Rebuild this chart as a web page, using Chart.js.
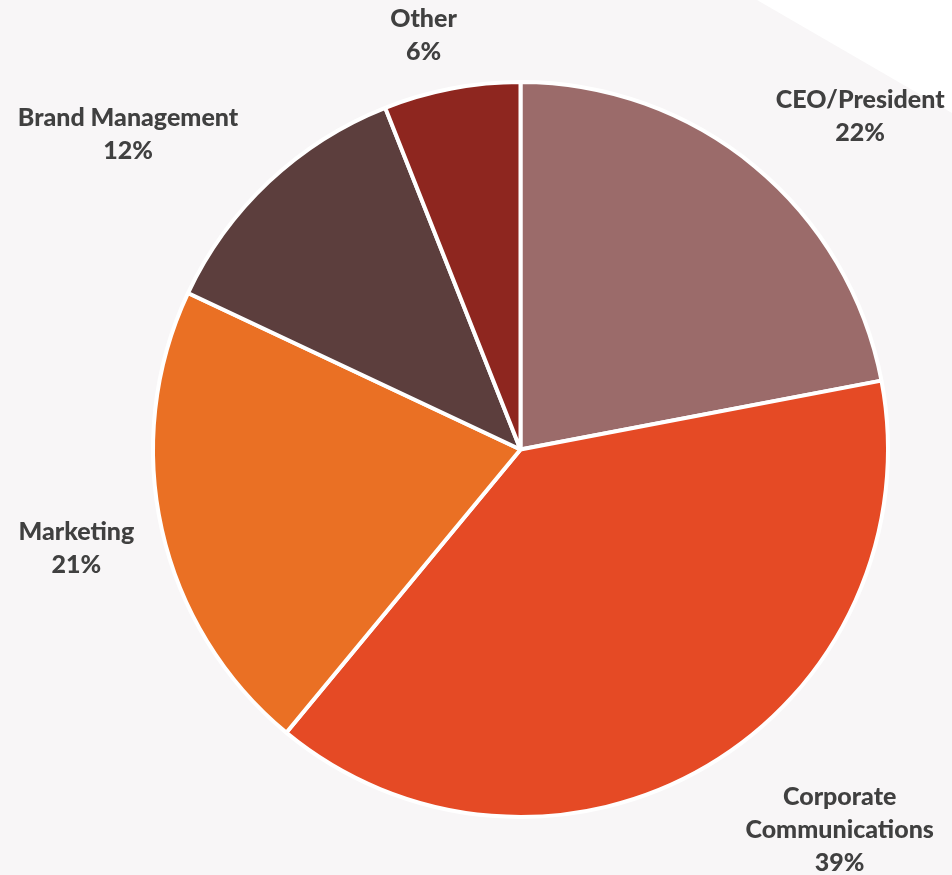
<!DOCTYPE html>
<html>
<head>
<meta charset="utf-8">
<script src="https://cdn.jsdelivr.net/npm/chart.js@4.4.0/dist/chart.umd.min.js"></script>
<style>
  html, body { margin: 0; padding: 0; background: #f8f6f7; }
  #wrap { width: 952px; height: 875px; position: relative; }
</style>
</head>
<body>
<div id="wrap"><canvas id="chart" width="952" height="875"></canvas></div>
<script>
const categories = ["CEO/President", "Corporate Communications", "Marketing", "Brand Management", "Other"];
const shares = [22, 39, 21, 12, 6];
const sliceColors = ["#9b6b6a", "#e54a25", "#ea7024", "#5c3e3d", "#8e261f"];

// label text broken into lines the way the reference shows them
const labelLines = [["CEO/President"], ["Corporate", "Communications"], ["Marketing"], ["Brand Management"], ["Other"]];

const pageBg = {
  id: "pageBg",
  beforeDraw(chart) {
    const ctx = chart.ctx;
    ctx.save();
    ctx.fillStyle = "#f8f6f7";
    ctx.fillRect(0, 0, chart.width, chart.height);
    // white corner cut top-right
    ctx.fillStyle = "#ffffff";
    ctx.beginPath();
    ctx.moveTo(chart.width - 195, 0);
    ctx.lineTo(chart.width, 0);
    ctx.lineTo(chart.width, 113);
    ctx.closePath();
    ctx.fill();
    ctx.restore();
  }
};

const clamp = v => Math.max(-1, Math.min(1, v));

const outsideLabels = {
  id: "outsideLabels",
  afterDatasetsDraw(chart, args, opts) {
    const ctx = chart.ctx;
    const meta = chart.getDatasetMeta(0);
    ctx.save();
    ctx.font = "900 25px Lato";
    ctx.fillStyle = "#404040";
    ctx.textAlign = "center";
    ctx.textBaseline = "middle";
    const lh = 33;
    meta.data.forEach((arc, i) => {
      const mid = (arc.startAngle + arc.endAngle) / 2;
      const lines = labelLines[i].concat([shares[i] + "%"]);
      const w = Math.max(...lines.map(l => ctx.measureText(l).width));
      const h = lines.length * lh;
      const r = arc.outerRadius + 20;
      const cos = Math.cos(mid), sin = Math.sin(mid);
      const nudge = opts.nudge[i] || [0, 0];
      const cx = arc.x + r * cos + clamp(cos * 1.5) * w / 2 + nudge[0];
      const cy = arc.y + r * sin + clamp(sin * 1.5) * h / 2 + nudge[1];
      lines.forEach((l, k) => {
        ctx.fillText(l, cx, cy - h / 2 + lh / 2 + k * lh);
      });
    });
    ctx.restore();
  }
};

new Chart(document.getElementById("chart"), {
  type: "pie",
  data: {
    labels: categories,
    datasets: [{
      data: shares,
      backgroundColor: sliceColors,
      borderColor: "#ffffff",
      borderWidth: 4,
      hoverOffset: 0
    }]
  },
  options: {
    responsive: false,
    animation: false,
    layout: { padding: { top: 80, bottom: 56, left: 151, right: 62 } },
    plugins: {
      legend: { display: false },
      tooltip: { enabled: false },
      outsideLabels: { nudge: [[12, -1], [50, -3], [-8, 4], [-17, 0], [-15, 0]] }
    }
  },
  plugins: [pageBg, outsideLabels]
});
</script>
</body>
</html>
